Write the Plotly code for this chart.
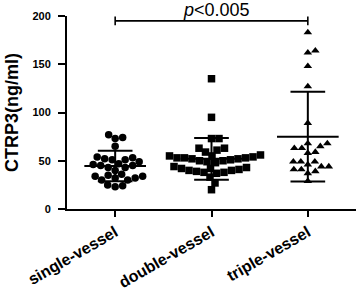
import plotly.graph_objects as go

# ---------------- data ----------------
categories = ["single-vessel", "double-vessel", "triple-vessel"]

single_vessel = [77, 74, 73, 65, 54, 52, 51, 51, 53, 49, 45, 46, 43, 40, 43, 45, 47,
                 34, 32, 35, 34, 36, 30, 32, 25, 23, 24, 30]
double_vessel = [135, 95, 73, 73, 63, 61, 59, 63, 56, 55, 55, 54, 53, 53, 52, 51, 50,
                 49, 48, 50, 52, 53, 44, 42, 41, 40, 39, 38, 37, 38, 40, 42, 43, 33, 27, 20]
triple_vessel = [183, 164, 162, 148, 127, 89, 68, 65, 63, 63, 68, 58, 59, 49, 49, 49,
                 46, 44, 41, 44, 41, 39, 37, 29]

group_means = [44.5, 52.0, 75.0]
group_sd = [15.8, 21.6, 46.6]

y_ticks = [0, 50, 100, 150, 200]
y_title = "CTRP3(ng/ml)"
p_label = "<i>p</i>&lt;0.005"
bracket_groups = [0, 2]
bracket_level = 195

symbols = ["circle", "square", "triangle-up"]

# ---------------- layout geometry ----------------
W, H = 358, 294
M = dict(l=67, r=2, t=16, b=85)
Y_RANGE = [0, 200]
X_RANGE = [-0.5, 2.5]
px_per_cat = (W - M["l"] - M["r"]) / (X_RANGE[1] - X_RANGE[0])
px_per_unit = (H - M["t"] - M["b"]) / (Y_RANGE[1] - Y_RANGE[0])


def swarm_offsets(values, diameter=7.4, step=0.5):
    """Simple beeswarm: place each point nearest the centre without overlap."""
    order = sorted(range(len(values)), key=lambda i: values[i])
    placed = []
    offsets = [0.0] * len(values)
    for i in order:
        y = values[i] * px_per_unit
        k = 0
        while True:
            cands = [0.0] if k == 0 else [k * step, -k * step]
            found = None
            for x in cands:
                if all((x - px) ** 2 + (y - py) ** 2 >= diameter ** 2 for px, py in placed):
                    found = x
                    break
            if found is not None:
                break
            k += 1
        placed.append((found, y))
        offsets[i] = found / px_per_cat
    return offsets


fig = go.Figure()

groups = [single_vessel, double_vessel, triple_vessel]
for gi, vals in enumerate(groups):
    offs = swarm_offsets(vals)
    fig.add_trace(go.Scatter(
        x=[gi + o for o in offs], y=vals, mode="markers",
        marker=dict(symbol=symbols[gi], color="black", size=7.5,
                    line=dict(width=0)),
        showlegend=False, hoverinfo="y", cliponaxis=False,
    ))

# mean +/- SD bars
MEAN_HALF = 0.32
CAP_HALF = 0.18
ex, ey = [], []
for gi, (m, s) in enumerate(zip(group_means, group_sd)):
    ex += [gi - MEAN_HALF, gi + MEAN_HALF, None]
    ey += [m, m, None]
    ex += [gi, gi, None]
    ey += [m - s, m + s, None]
    ex += [gi - CAP_HALF, gi + CAP_HALF, None]
    ey += [m + s, m + s, None]
    ex += [gi - CAP_HALF, gi + CAP_HALF, None]
    ey += [m - s, m - s, None]
fig.add_trace(go.Scatter(x=ex, y=ey, mode="lines",
                         line=dict(color="black", width=2),
                         showlegend=False, hoverinfo="skip"))

# significance bracket
g0, g1 = bracket_groups
tick_h = 4.6
fig.add_trace(go.Scatter(
    x=[g0, g0, None, g0, g1, None, g1, g1],
    y=[bracket_level - tick_h, bracket_level + tick_h, None,
       bracket_level, bracket_level, None,
       bracket_level - tick_h, bracket_level + tick_h],
    mode="lines", line=dict(color="black", width=1.6),
    showlegend=False, hoverinfo="skip", cliponaxis=False))

fig.add_annotation(x=(g0 + g1) / 2 + 0.055, y=1.032, xref="x", yref="paper",
                   text=p_label, showarrow=False, yanchor="middle",
                   font=dict(family="Arial, Liberation Sans", size=18, color="black"))

bold_font = dict(family="Arial, Liberation Sans", color="black", weight="bold")

fig.update_layout(
    width=W, height=H, margin=M,
    paper_bgcolor="white", plot_bgcolor="white",
    xaxis=dict(range=X_RANGE, tickmode="array", tickvals=[0, 1, 2], ticktext=categories,
               tickangle=-30, ticks="outside", ticklen=6, tickwidth=2, tickcolor="black",
               showline=True, linewidth=2, linecolor="black", showgrid=False,
               zeroline=False, ticklabelstandoff=0, automargin=False,
               tickfont=dict(size=16, **bold_font)),
    yaxis=dict(range=Y_RANGE, tickmode="array", tickvals=y_ticks, ticks="outside",
               ticklen=7, tickwidth=2, tickcolor="black", showline=True, linewidth=2,
               linecolor="black", showgrid=False, zeroline=False,
               ticklabelstandoff=5, automargin=False,
               tickfont=dict(size=11, **bold_font),
               title=dict(text=y_title, font=dict(size=18, **bold_font), standoff=9)),
)

fig.write_html("out.html", config={"displayModeBar": False},
               post_script="document.body.style.margin='0';document.body.style.overflow='hidden';")
